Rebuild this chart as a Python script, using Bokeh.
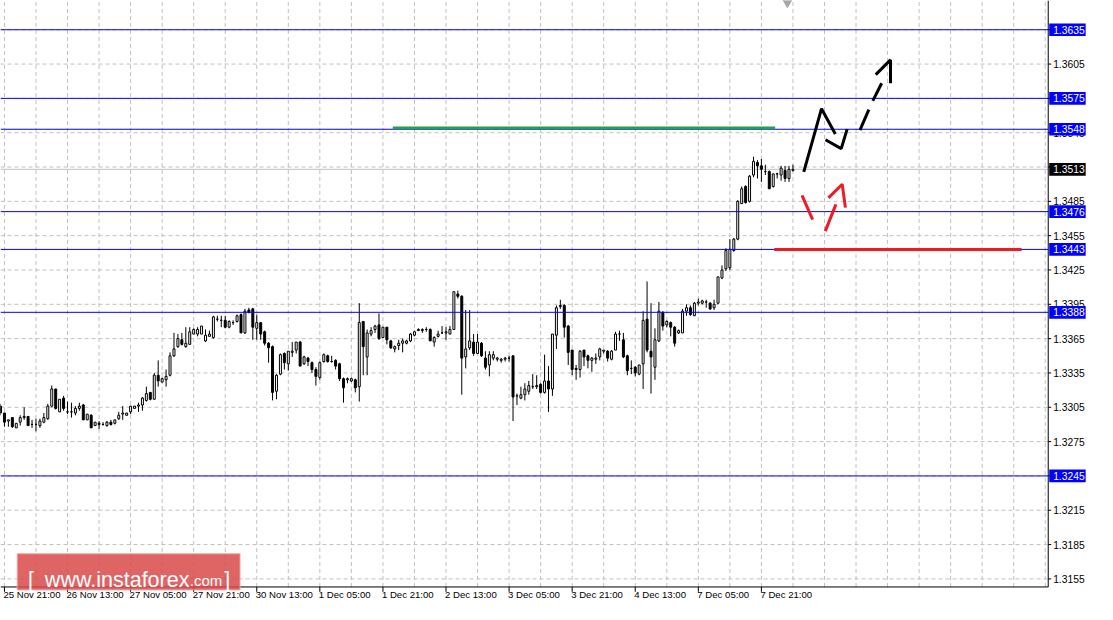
import numpy as np
from bokeh.plotting import figure
from bokeh.models import Range1d
from bokeh.embed import file_html
from bokeh.resources import INLINE
from bokeh.core.properties import value

# ---- hourly candles (bar index 0 = 25 Nov 20:00) ----
opens = [1.3306,1.3300,1.3293,1.3296,1.3287,1.3292,1.3296,1.3297,1.3290,1.3290,
         1.3289,1.3292,1.3295,1.3306,1.3321,1.3301,1.3313,1.3301,1.3301,1.3300,
         1.3304,1.3307,1.3294,1.3298,1.3289,1.3291,1.3290,1.3289,1.3292,1.3291,
         1.3295,1.3299,1.3298,1.3301,1.3304,1.3306,1.3307,1.3311,1.3318,1.3312,
         1.3333,1.3327,1.3329,1.3333,1.3350,1.3358,1.3364,1.3358,1.3360,1.3369,
         1.3369,1.3369,1.3363,1.3367,1.3366,1.3382,1.3381,1.3381,1.3375,1.3379,
         1.3380,1.3386,1.3370,1.3390,1.3391,1.3374,1.3379,1.3371,1.3361,1.3358,
         1.3319,1.3334,1.3352,1.3343,1.3353,1.3355,1.3362,1.3343,1.3348,1.3344,
         1.3338,1.3331,1.3345,1.3350,1.3345,1.3346,1.3343,1.3330,1.3329,1.3328,
         1.3329,1.3323,1.3380,1.3349,1.3369,1.3373,1.3377,1.3366,1.3375,1.3363,
         1.3356,1.3359,1.3361,1.3361,1.3363,1.3368,1.3372,1.3372,1.3373,1.3373,
         1.3362,1.3367,1.3370,1.3370,1.3369,1.3373,1.3404,1.3402,1.3349,1.3357,
         1.3362,1.3352,1.3361,1.3348,1.3342,1.3348,1.3347,1.3346,1.3347,1.3348,
         1.3350,1.3315,1.3313,1.3316,1.3319,1.3323,1.3323,1.3325,1.3318,1.3328,
         1.3321,1.3368,1.3393,1.3394,1.3376,1.3355,1.3339,1.3338,1.3355,1.3350,
         1.3346,1.3347,1.3349,1.3354,1.3354,1.3347,1.3355,1.3369,1.3364,1.3350,
         1.3339,1.3340,1.3334,1.3343,1.3382,1.3354,1.3340,1.3363,1.3388,1.3377,
         1.3379,1.3375,1.3370,1.3370,1.3389,1.3392,1.3385,1.3396,1.3396,1.3397,
         1.3396,1.3392,1.3396,1.3418,1.3426,1.3427,1.3442,1.3452,1.3483,1.3498,
         1.3485,1.3508,1.3519,1.3516,1.3511,1.3511,1.3498,1.3509,1.3508,1.3512,
         1.3505,1.3512]
highs = [1.3308,1.3300,1.3294,1.3296,1.3291,1.3298,1.3305,1.3297,1.3294,1.3295,
         1.3295,1.3300,1.3308,1.3324,1.3321,1.3312,1.3315,1.3310,1.3309,1.3306,
         1.3309,1.3308,1.3299,1.3299,1.3292,1.3293,1.3292,1.3293,1.3294,1.3294,
         1.3301,1.3306,1.3300,1.3306,1.3306,1.3309,1.3314,1.3323,1.3318,1.3335,
         1.3346,1.3331,1.3338,1.3353,1.3370,1.3369,1.3370,1.3375,1.3375,1.3374,
         1.3375,1.3376,1.3373,1.3372,1.3385,1.3385,1.3385,1.3385,1.3381,1.3381,
         1.3386,1.3387,1.3391,1.3392,1.3392,1.3386,1.3379,1.3372,1.3362,1.3359,
         1.3334,1.3352,1.3353,1.3354,1.3362,1.3362,1.3363,1.3350,1.3349,1.3345,
         1.3340,1.3345,1.3352,1.3351,1.3350,1.3347,1.3344,1.3331,1.3331,1.3331,
         1.3330,1.3396,1.3380,1.3373,1.3375,1.3377,1.3387,1.3375,1.3375,1.3364,
         1.3359,1.3364,1.3365,1.3364,1.3370,1.3372,1.3374,1.3374,1.3375,1.3374,
         1.3367,1.3372,1.3376,1.3375,1.3376,1.3406,1.3407,1.3403,1.3390,1.3390,
         1.3369,1.3369,1.3362,1.3354,1.3354,1.3354,1.3349,1.3348,1.3349,1.3350,
         1.3350,1.3317,1.3323,1.3326,1.3328,1.3334,1.3333,1.3326,1.3351,1.3341,
         1.3369,1.3394,1.3399,1.3395,1.3377,1.3355,1.3342,1.3355,1.3355,1.3351,
         1.3349,1.3352,1.3357,1.3355,1.3355,1.3355,1.3371,1.3372,1.3370,1.3351,
         1.3346,1.3341,1.3342,1.3389,1.3415,1.3396,1.3374,1.3397,1.3389,1.3381,
         1.3380,1.3376,1.3373,1.3391,1.3395,1.3394,1.3397,1.3400,1.3399,1.3399,
         1.3397,1.3399,1.3419,1.3429,1.3444,1.3452,1.3453,1.3486,1.3498,1.3499,
         1.3508,1.3524,1.3521,1.3522,1.3517,1.3512,1.3509,1.3510,1.3516,1.3516,
         1.3516,1.3517]
lows = [1.3298,1.3288,1.3288,1.3287,1.3287,1.3289,1.3294,1.3289,1.3287,1.3284,
        1.3287,1.3291,1.3294,1.3305,1.3303,1.3301,1.3302,1.3299,1.3296,1.3298,
        1.3302,1.3294,1.3294,1.3287,1.3289,1.3286,1.3289,1.3288,1.3289,1.3290,
        1.3294,1.3294,1.3298,1.3299,1.3304,1.3301,1.3302,1.3310,1.3311,1.3312,
        1.3323,1.3327,1.3323,1.3332,1.3349,1.3357,1.3359,1.3357,1.3360,1.3369,
        1.3367,1.3369,1.3362,1.3367,1.3365,1.3380,1.3375,1.3374,1.3374,1.3377,
        1.3379,1.3370,1.3369,1.3387,1.3364,1.3364,1.3364,1.3359,1.3344,1.3311,
        1.3312,1.3333,1.3338,1.3337,1.3349,1.3352,1.3341,1.3342,1.3341,1.3335,
        1.3324,1.3329,1.3344,1.3344,1.3344,1.3338,1.3328,1.3309,1.3326,1.3327,
        1.3318,1.3310,1.3333,1.3333,1.3367,1.3370,1.3364,1.3366,1.3360,1.3356,
        1.3353,1.3355,1.3353,1.3360,1.3362,1.3367,1.3372,1.3370,1.3371,1.3363,
        1.3358,1.3366,1.3369,1.3364,1.3369,1.3373,1.3400,1.3316,1.3339,1.3355,
        1.3350,1.3352,1.3349,1.3338,1.3332,1.3346,1.3345,1.3344,1.3345,1.3345,
        1.3293,1.3307,1.3312,1.3311,1.3316,1.3321,1.3321,1.3317,1.3317,1.3301,
        1.3315,1.3356,1.3391,1.3366,1.3342,1.3333,1.3329,1.3331,1.3341,1.3339,
        1.3336,1.3343,1.3346,1.3352,1.3345,1.3346,1.3355,1.3363,1.3348,1.3333,
        1.3334,1.3332,1.3333,1.3321,1.3353,1.3317,1.3329,1.3362,1.3372,1.3375,
        1.3367,1.3358,1.3369,1.3370,1.3385,1.3385,1.3385,1.3394,1.3395,1.3392,
        1.3390,1.3390,1.3395,1.3417,1.3424,1.3425,1.3441,1.3451,1.3483,1.3483,
        1.3484,1.3506,1.3505,1.3502,1.3508,1.3496,1.3497,1.3505,1.3503,1.3502,
        1.3502,1.3511]
closes = [1.3300,1.3292,1.3294,1.3288,1.3291,1.3296,1.3297,1.3289,1.3290,1.3290,
          1.3293,1.3296,1.3306,1.3321,1.3304,1.3312,1.3304,1.3301,1.3301,1.3304,
          1.3306,1.3294,1.3299,1.3287,1.3292,1.3290,1.3290,1.3292,1.3290,1.3294,
          1.3298,1.3300,1.3300,1.3306,1.3306,1.3307,1.3313,1.3317,1.3312,1.3333,
          1.3328,1.3330,1.3332,1.3350,1.3356,1.3365,1.3360,1.3361,1.3371,1.3373,
          1.3373,1.3376,1.3368,1.3369,1.3384,1.3382,1.3381,1.3375,1.3380,1.3379,
          1.3385,1.3370,1.3389,1.3388,1.3375,1.3379,1.3369,1.3361,1.3357,1.3318,
          1.3333,1.3351,1.3344,1.3354,1.3354,1.3362,1.3341,1.3349,1.3345,1.3338,
          1.3332,1.3344,1.3351,1.3345,1.3345,1.3341,1.3330,1.3322,1.3330,1.3330,
          1.3322,1.3379,1.3358,1.3370,1.3372,1.3376,1.3365,1.3375,1.3364,1.3357,
          1.3358,1.3361,1.3363,1.3363,1.3369,1.3371,1.3373,1.3373,1.3373,1.3363,
          1.3366,1.3369,1.3370,1.3371,1.3373,1.3406,1.3402,1.3348,1.3356,1.3363,
          1.3352,1.3362,1.3350,1.3340,1.3351,1.3351,1.3348,1.3347,1.3348,1.3348,
          1.3314,1.3315,1.3316,1.3321,1.3324,1.3323,1.3324,1.3318,1.3328,1.3321,
          1.3369,1.3392,1.3394,1.3375,1.3353,1.3338,1.3338,1.3354,1.3349,1.3346,
          1.3348,1.3348,1.3356,1.3355,1.3348,1.3354,1.3369,1.3369,1.3349,1.3337,
          1.3339,1.3335,1.3342,1.3381,1.3355,1.3349,1.3364,1.3389,1.3376,1.3380,
          1.3375,1.3361,1.3372,1.3389,1.3392,1.3386,1.3396,1.3397,1.3398,1.3397,
          1.3391,1.3395,1.3419,1.3425,1.3442,1.3443,1.3452,1.3485,1.3496,1.3484,
          1.3507,1.3520,1.3516,1.3513,1.3511,1.3496,1.3509,1.3509,1.3514,1.3505,
          1.3513,1.3513]

# ---- axes texts ----
time_tick_bars = [1, 17, 33, 49, 65, 81, 97, 113, 129, 145, 161, 177, 193]
time_tick_labels = ["25 Nov 21:00", "26 Nov 13:00", "27 Nov 05:00", "27 Nov 21:00",
                    "30 Nov 13:00", "1 Dec 05:00", "1 Dec 21:00", "2 Dec 13:00",
                    "3 Dec 05:00", "3 Dec 21:00", "4 Dec 13:00", "7 Dec 05:00",
                    "7 Dec 21:00"]
price_ticks = [1.3155, 1.3185, 1.3215, 1.3245, 1.3275, 1.3305, 1.3335, 1.3365,
               1.3395, 1.3425, 1.3455, 1.3485, 1.3515, 1.3545, 1.3575, 1.3605, 1.3635]
grid_bars = list(range(1, 266, 8))

# ---- drawn levels / objects ----
level_prices = [1.3635, 1.3575, 1.3548, 1.3476, 1.3443, 1.3388, 1.3245]
bid_price = 1.3513
green_bars = [99.5, 196.5]
green_price = 1.3549
red_bars = [196.25, 259.0]
red_price = 1.3443
black_paths_x = [[203.75, 208.25, 211.75], [209.25, 213.25, 214.75], [218.0, 220.25],
                 [221.25, 223.5], [222.0, 225.75, 225.75]]
black_paths_y = [[1.35107, 1.35660, 1.35439], [1.35388, 1.35311, 1.35481], [1.35473, 1.35652],
                 [1.35728, 1.35882], [1.35958, 1.36086, 1.35882]]
red_paths_x = [[203.3, 206.0], [209.2, 211.9], [210.0, 213.5, 214.3]]
red_paths_y = [[1.34902, 1.34690], [1.34590, 1.34823], [1.34880, 1.34999, 1.34795]]

# ---- layout constants (data units) ----
PX = 11744.0            # price units -> reference pixels
X_END = 265.75          # right edge of price area (bars)
Y_TOP = 1.3635 + 30 / PX
Y_AXIS = 1.3635 - 572 / PX
Y_MIN = 1.3635 - 590 / PX
X_MAX = 278.25

o = np.array(opens); h = np.array(highs); l = np.array(lows); c = np.array(closes)
idx = np.arange(len(o))
up = c >= o
dn = ~up

p = figure(width=1097, height=604, output_backend="svg", toolbar_location=None,
           x_range=Range1d(0, X_MAX), y_range=Range1d(Y_MIN, Y_TOP),
           x_axis_location=None, y_axis_location=None,
           min_border_left=0, min_border_right=0, min_border_top=0, min_border_bottom=0)
p.outline_line_color = None
p.grid.visible = False
p.background_fill_color = "white"
p.border_fill_color = "white"

FONT = value("Liberation Sans")
GRID = "#c0c0c0"

# grid
pt = np.array(price_ticks)
p.segment(x0=np.zeros(len(pt)), y0=pt, x1=np.full(len(pt), X_END), y1=pt,
          line_color=GRID, line_width=1, line_dash="4 3")
gb = np.array(grid_bars, dtype=float)
p.segment(x0=gb, y0=np.full(len(gb), Y_AXIS), x1=gb, y1=np.full(len(gb), Y_TOP),
          line_color=GRID, line_width=1, line_dash="4 3")

# bid line
p.segment(x0=[0], y0=[bid_price], x1=[X_END], y1=[bid_price], line_color=GRID, line_width=1)

# candles
p.segment(x0=idx, y0=l, x1=idx, y1=h, line_color="black", line_width=1)
p.vbar(x=idx[up], bottom=o[up], top=c[up], width=0.5, fill_color="white",
       line_color="black", line_width=1)
p.vbar(x=idx[dn], bottom=c[dn], top=o[dn], width=0.5, fill_color="black",
       line_color="black", line_width=1)

# level lines
lv = np.array(level_prices)
p.segment(x0=np.zeros(len(lv)), y0=lv, x1=np.full(len(lv), X_END), y1=lv,
          line_color="#0000ff", line_width=1)

p.segment(x0=[green_bars[0]], y0=[green_price], x1=[green_bars[1]], y1=[green_price],
          line_color="#22a150", line_width=3)
p.segment(x0=[red_bars[0]], y0=[red_price], x1=[red_bars[1]], y1=[red_price],
          line_color="#ed1c24", line_width=3)
p.multi_line(xs=black_paths_x, ys=black_paths_y, line_color="black", line_width=3)
p.multi_line(xs=red_paths_x, ys=red_paths_y, line_color="#ed1c24", line_width=3)

# chart-shift marker
p.scatter(x=[199.6], y=[1.3635 + 28 / PX], marker="inverted_triangle", size=9,
          fill_color="#a8a8a8", line_color="#a8a8a8")

# axes lines and ticks
p.segment(x0=[X_END], y0=[Y_AXIS], x1=[X_END], y1=[Y_TOP], line_color="black", line_width=1)
p.segment(x0=[0], y0=[Y_AXIS], x1=[X_END], y1=[Y_AXIS], line_color="black", line_width=1)
p.segment(x0=np.full(len(pt), X_END), y0=pt, x1=np.full(len(pt), X_END + 0.75), y1=pt,
          line_color="black", line_width=1)
tb = np.array(time_tick_bars, dtype=float)
p.segment(x0=tb, y0=np.full(len(tb), Y_AXIS), x1=tb, y1=np.full(len(tb), Y_AXIS - 5 / PX),
          line_color="black", line_width=1)

# y tick labels
p.text(x=np.full(len(pt), 267.0), y=pt, text=[f"{v:.4f}" for v in price_ticks],
       text_font=FONT, text_font_size="10.3px", text_color="black",
       text_baseline="middle", text_align="left")

# x tick labels
p.text(x=tb - 0.25, y=np.full(len(tb), 1.3635 - 574 / PX), text=time_tick_labels,
       text_font=FONT, text_font_size="9.6px", text_color="black",
       text_baseline="top", text_align="left")

# price boxes on the axis
half = 6.5 / PX
p.quad(left=np.full(len(lv), 266.0), right=np.full(len(lv), 275.25), bottom=lv - half,
       top=lv + half, fill_color="#0000ff", line_color=None)
p.text(x=np.full(len(lv), 267.0), y=lv, text=[f"{v:.4f}" for v in level_prices],
       text_font=FONT, text_font_size="10.3px", text_color="white",
       text_baseline="middle", text_align="left")
p.quad(left=[266.0], right=[275.25], bottom=[bid_price - half], top=[bid_price + half],
       fill_color="black", line_color=None)
p.text(x=[267.0], y=[bid_price], text=[f"{bid_price:.4f}"], text_font=FONT,
       text_font_size="10.3px", text_color="white", text_baseline="middle", text_align="left")

# watermark
p.quad(left=[4.25], right=[60.75], top=[1.3635 - 538 / PX], bottom=[1.3635 - 575 / PX],
       fill_color="#d94a4a", fill_alpha=0.85, line_color="#eea0a0", line_width=1)
wm_y = 1.3635 - 565 / PX
p.text(x=[7.0, 11.25, 56.75], y=[wm_y, wm_y, wm_y], text=["[", "www.instaforex", "]"],
       text_font=FONT, text_font_size="21.5px", text_color="white",
       text_baseline="alphabetic", text_align="left")
p.text(x=[48.0], y=[wm_y], text=[".com"], text_font=FONT, text_font_size="15px",
       text_color="white", text_baseline="alphabetic", text_align="left")

open("out.html", "w").write(file_html(p, INLINE))
